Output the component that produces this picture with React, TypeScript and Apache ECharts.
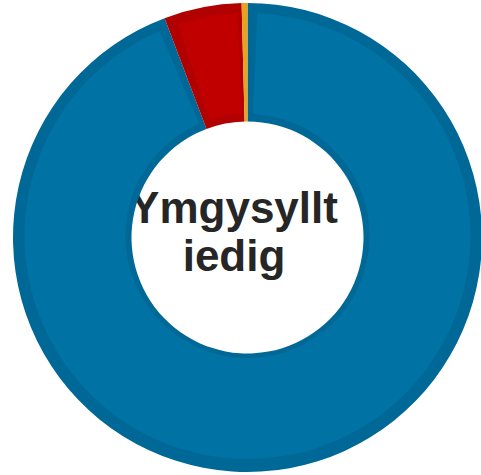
import React, { useEffect, useRef } from "react";
import * as echarts from "echarts";

const categories = ["Ymgysylltiedig", "Coch", "Oren"];
const values = [94.25, 5.35, 0.4];
const darkColors = ["#006897", "#B00000", "#E9A21C"];
const lightColors = ["#0072A3", "#C00000", "#F3BE3A"];
const centerLabel = "Ymgysyllt\niedig";

export default function App() {
  const ref = useRef<HTMLDivElement>(null);
  useEffect(() => {
    if (!ref.current) return;
    const chart = echarts.init(ref.current, undefined, { renderer: "svg" });
    const baseData = categories.map((name, i) => ({
      name,
      value: values[i],
      itemStyle: { color: darkColors[i] },
    }));
    // Lighter inner fill: first category alone, remaining categories merged
    const overlayData = [
      { name: categories[0], value: values[0], itemStyle: { color: lightColors[0] } },
      {
        name: categories[1],
        value: values.slice(1).reduce((a, b) => a + b, 0),
        itemStyle: { color: lightColors[1] },
      },
    ];
    chart.setOption({
      animation: false,
      series: [
        {
          type: "pie",
          center: [247.5, 237.5],
          radius: [116, 234.5],
          startAngle: 90,
          clockwise: true,
          label: { show: false },
          labelLine: { show: false },
          silent: true,
          data: baseData,
        },
        {
          type: "pie",
          center: [247.5, 236],
          radius: [122, 223],
          startAngle: 90,
          clockwise: true,
          padAngle: 5,
          label: { show: false },
          labelLine: { show: false },
          silent: true,
          data: overlayData,
        },
      ],
      graphic: [
        {
          type: "text",
          x: 234,
          y: 231,
          style: {
            text: centerLabel,
            fontSize: 44,
            fontWeight: "bold",
            fontFamily: "Liberation Sans",
            fill: "#262626",
            align: "center",
            verticalAlign: "middle",
            lineHeight: 48,
          },
        },
      ],
    });
    return () => chart.dispose();
  }, []);
  return (
    <div
      ref={ref}
      style={{ position: "fixed", left: 0, top: 0, width: 481, height: 475, background: "#fff" }}
    />
  );
}
